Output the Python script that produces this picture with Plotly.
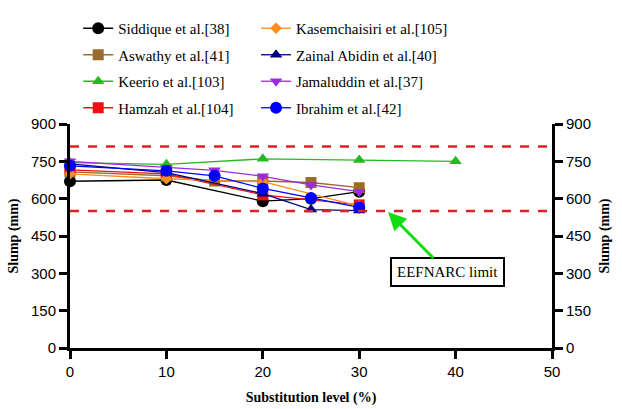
import plotly.graph_objects as go

names = ["Siddique et al.[38]", "Aswathy et al.[41]", "Keerio et al.[103]", "Hamzah et al.[104]",
         "Kasemchaisiri et al.[105]", "Zainal Abidin et al.[40]", "Jamaluddin et al.[37]", "Ibrahim et al.[42]"]

siddique_x = [0, 10, 20, 25, 30]
siddique_y = [670, 675, 590, 600, 628]
aswathy_x = [0, 10, 15, 20, 25, 30]
aswathy_y = [708, 692, 671, 671, 665, 644]
keerio_x = [0, 10, 20, 30, 40]
keerio_y = [745, 738, 760, 755, 750]
hamzah_x = [0, 10, 20, 30]
hamzah_y = [716, 700, 615, 575]
kasem_x = [0, 10, 20, 30]
kasem_y = [700, 680, 668, 570]
zainal_x = [0, 10, 20, 25, 30]
zainal_y = [740, 705, 620, 556, 552]
jamal_x = [0, 10, 15, 20, 25, 30]
jamal_y = [750, 724, 714, 690, 655, 628]
ibrahim_x = [0, 10, 15, 20, 25, 30]
ibrahim_y = [732, 712, 692, 641, 603, 565]

efnarc_limits = [550, 810]
y_ticks = [0, 150, 300, 450, 600, 750, 900]
x_ticks = [0, 10, 20, 30, 40, 50]

series = [
    (siddique_x, siddique_y, "#000000", "circle", 12),
    (aswathy_x, aswathy_y, "#9b6a2c", "square", 11),
    (keerio_x, keerio_y, "#22bb22", "triangle-up", 11),
    (hamzah_x, hamzah_y, "#ee1111", "square", 11),
    (kasem_x, kasem_y, "#ff8c1a", "diamond", 9),
    (zainal_x, zainal_y, "#00007f", "triangle-up", 11),
    (jamal_x, jamal_y, "#9a2be0", "triangle-down", 11),
    (ibrahim_x, ibrahim_y, "#0000ff", "circle", 12),
]

SERIF = "Liberation Serif, Times New Roman, serif"

fig = go.Figure()
for i, (xs, ys, col, sym, sz) in enumerate(series):
    fig.add_trace(go.Scatter(
        x=xs, y=ys, name=names[i], mode="lines+markers",
        line=dict(color=col, width=1.3),
        marker=dict(color=col, symbol=sym, size=sz),
        cliponaxis=False, legendgroup="g%d" % i,
        legend="legend" if i < 4 else "legend2",
    ))

fig.add_trace(go.Scatter(x=[0], y=[0], yaxis="y2", showlegend=False,
                         mode="markers", marker=dict(opacity=0), hoverinfo="skip"))

for v in efnarc_limits:
    fig.add_shape(type="line", xref="paper", x0=0, x1=1, yref="y", y0=v, y1=v,
                  line=dict(color="#e02020", width=2.5, dash="dash"))

fig.add_annotation(x=33.0, y=546, xref="x", yref="y", text="EEFNARC limit",
                   showarrow=True, ax=59, ay=60,
                   font=dict(family=SERIF, size=15, color="black"),
                   bordercolor="black", borderwidth=2, borderpad=5, bgcolor="white",
                   arrowcolor="#11dd11", arrowwidth=3, arrowhead=2, arrowsize=1.2)

tickfont = dict(family="Arial", size=15, color="black")
titlefont = dict(family=SERIF, size=14, color="black")

axis_common = dict(showline=True, linewidth=3, linecolor="black", ticks="outside", ticklen=8,
                   tickwidth=3, tickcolor="black", showgrid=False, zeroline=False,
                   tickfont=tickfont, tickprefix="<b>", ticksuffix="</b>", automargin=False)

legend_common = dict(y=1.0, xanchor="left", yanchor="bottom",
                     bgcolor="rgba(0,0,0,0)", font=dict(family=SERIF, size=15, color="black"),
                     itemwidth=30, tracegroupgap=4)

fig.update_layout(
    width=622, height=409,
    margin=dict(l=70, r=70, t=124, b=61),
    paper_bgcolor="white", plot_bgcolor="white",
    font=dict(family=SERIF, color="black"),
    xaxis=dict(range=[0, 50], tickvals=x_ticks, **axis_common,
               title=dict(text="<b>Substitution level (%)</b>", font=titlefont, standoff=14)),
    yaxis=dict(range=[0, 900], tickvals=y_ticks, **axis_common,
               title=dict(text="<b>Slump (mm)</b>", font=titlefont, standoff=10)),
    yaxis2=dict(range=[0, 900], tickvals=y_ticks, overlaying="y", side="right", **axis_common,
                title=dict(text="<b>Slump (mm)</b>", font=titlefont, standoff=10)),
    legend=dict(x=0.017, **legend_common),
    legend2=dict(x=0.386, **legend_common),
)

fig.write_html("out.html")
